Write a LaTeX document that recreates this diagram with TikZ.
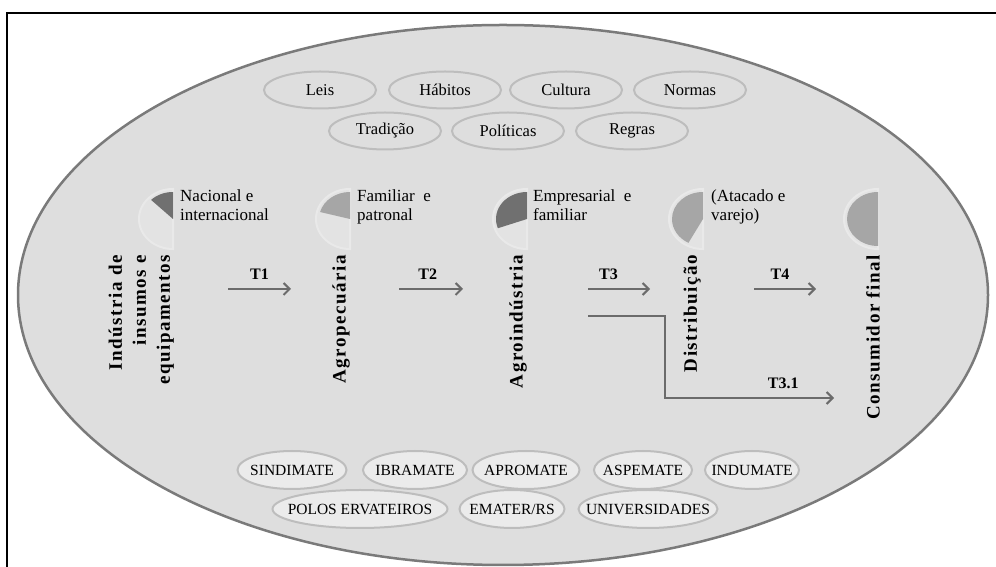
\documentclass[tikz,border=0pt]{standalone}
\usepackage{fontspec}
\setmainfont{Liberation Serif}
\usetikzlibrary{arrows.meta,shapes.geometric,positioning}

\definecolor{fundo}{HTML}{DEDEDE}
\definecolor{contorno}{HTML}{7A7A7A}
\definecolor{anel}{HTML}{BDBDBD}
\definecolor{bolhaclara}{HTML}{EBEBEB}
\definecolor{pizzabase}{HTML}{E3E3E3}
\definecolor{pizzaborda}{HTML}{E9E9E9}
\definecolor{fatiaescura}{HTML}{707070}
\definecolor{fatiamedia}{HTML}{A6A6A6}
\definecolor{cinzaseta}{HTML}{6B6B6B}

\begin{document}
\begin{tikzpicture}[x=1pt, y=1pt,
    valor/.style={ellipse, draw=anel, line width=2pt, inner sep=0pt,
        minimum width=112pt, minimum height=37pt, font=\fontsize{16.5}{18}\selectfont,
        execute at begin node={\hbox to 0pt\bgroup\hss}, execute at end node={\hss\egroup}},
    ator/.style={valor, fill=bolhaclara, minimum height=38pt, font=\fontsize{15.5}{17}\selectfont},
    elo/.style={rotate=90, anchor=south east, inner sep=0pt, align=right,
        font=\fontsize{19}{24}\selectfont\bfseries\addfontfeature{LetterSpace=8}},
    perfil/.style={anchor=north west, inner sep=0pt, align=left, font=\fontsize{17}{18.5}\selectfont},
    seta/.style={-{Straight Barb[length=6pt,width=12pt]}, draw=cinzaseta, line width=2pt},
    rotulo/.style={inner sep=1pt, font=\fontsize{16}{18}\selectfont\bfseries}]
    \useasboundingbox (0,0) rectangle (996,567);
    \clip (0,0) rectangle (996,567);

    % moldura e ambiente
    \draw[line width=1.3pt] (7,-20) rectangle (1020,554);
    \draw[fill=fundo, draw=contorno, line width=2.5pt] (503,272) ellipse [x radius=485, y radius=270];

    % ambiente institucional
    \node[valor] (leis) at (320,477) {Leis};
    \node[valor] (habitos) at (445,477) {Hábitos};
    \node[valor] (cultura) at (566,477) {Cultura};
    \node[valor] (normas) at (690,477) {Normas};
    \node[valor] (tradicao) at (385,436) {Tradição};
    \node[valor] (politicas) at (508,436) {Políticas};
    \node[valor] (regras) at (632,436) {Regras};

    % pizzas
    \foreach \px/\ang/\cor in {173/135/fatiaescura, 350/165/fatiamedia, 527/200/fatiaescura,
                               703/242/fatiamedia, 878/270/fatiamedia}{
        \fill[pizzabase, draw=pizzaborda, line width=2pt] (\px,318) arc[start angle=270, end angle=90, x radius=34, y radius=30] -- cycle;
        \fill[\cor] (\px,348) -- ++(0,27) arc[start angle=90, end angle=\ang, x radius=31, y radius=27] -- cycle;
    }
    \node[perfil] (p1) at (180,377) {Nacional e\\internacional};
    \node[perfil] (p2) at (357,377) {Familiar\enspace e\\patronal};
    \node[perfil] (p3) at (533,377) {Empresarial\enspace e\\familiar};
    \node[perfil] (p4) at (711,377) {(Atacado e\\varejo)};

    % elos da cadeia
    \node[elo] (ind) at (174,312) {Indústria de\\insumos e\\equipamentos};
    \node[elo] (agro) at (350,312) {Agropecuária};
    \node[elo] (agroind) at (527,312) {Agroindústria};
    \node[elo] (dist) at (701,312) {Distribuição};
    \node[elo] (cons) at (880,312) {Consumidor final};

    % transacoes
    \coordinate (t1i) at (228,278);  \coordinate (t1f) at (291,278);
    \coordinate (t2i) at (399,278);  \coordinate (t2f) at (463,278);
    \coordinate (t3i) at (588,278);  \coordinate (t3f) at (650,278);
    \coordinate (t4i) at (754,278);  \coordinate (t4f) at (816,278);
    \coordinate (t31i) at (588,251); \coordinate (t31c) at (665,251);
    \coordinate (t31f) at (834,169);
    \draw[seta] (t1i) -- (t1f) node[rotulo, midway, above=7pt] {T1};
    \draw[seta] (t2i) -- (t2f) node[rotulo, pos=0.45, above=7pt] {T2};
    \draw[seta] (t3i) -- (t3f) node[rotulo, pos=0.33, above=7pt] {T3};
    \draw[seta] (t4i) -- (t4f) node[rotulo, pos=0.42, above=7pt] {T4};
    \draw[seta] (t31i) -- (t31c) |- (t31f) node[rotulo, pos=0.85, above=7pt] {T3.1};

    % agentes de apoio
    \node[ator, minimum width=109pt] (sindimate) at (292,97) {SINDIMATE};
    \node[ator, minimum width=104pt] (ibramate) at (415,97) {IBRAMATE};
    \node[ator, minimum width=107pt] (apromate) at (526,97) {APROMATE};
    \node[ator, minimum width=98pt] (aspemate) at (643,97) {ASPEMATE};
    \node[ator, minimum width=94pt] (indumate) at (752,97) {INDUMATE};
    \node[ator, minimum width=175pt] (polos) at (360,58) {POLOS ERVATEIROS};
    \node[ator, minimum width=105pt] (emater) at (512,58) {EMATER/RS};
    \node[ator, minimum width=139pt] (univ) at (648,58) {UNIVERSIDADES};
\end{tikzpicture}
\end{document}
